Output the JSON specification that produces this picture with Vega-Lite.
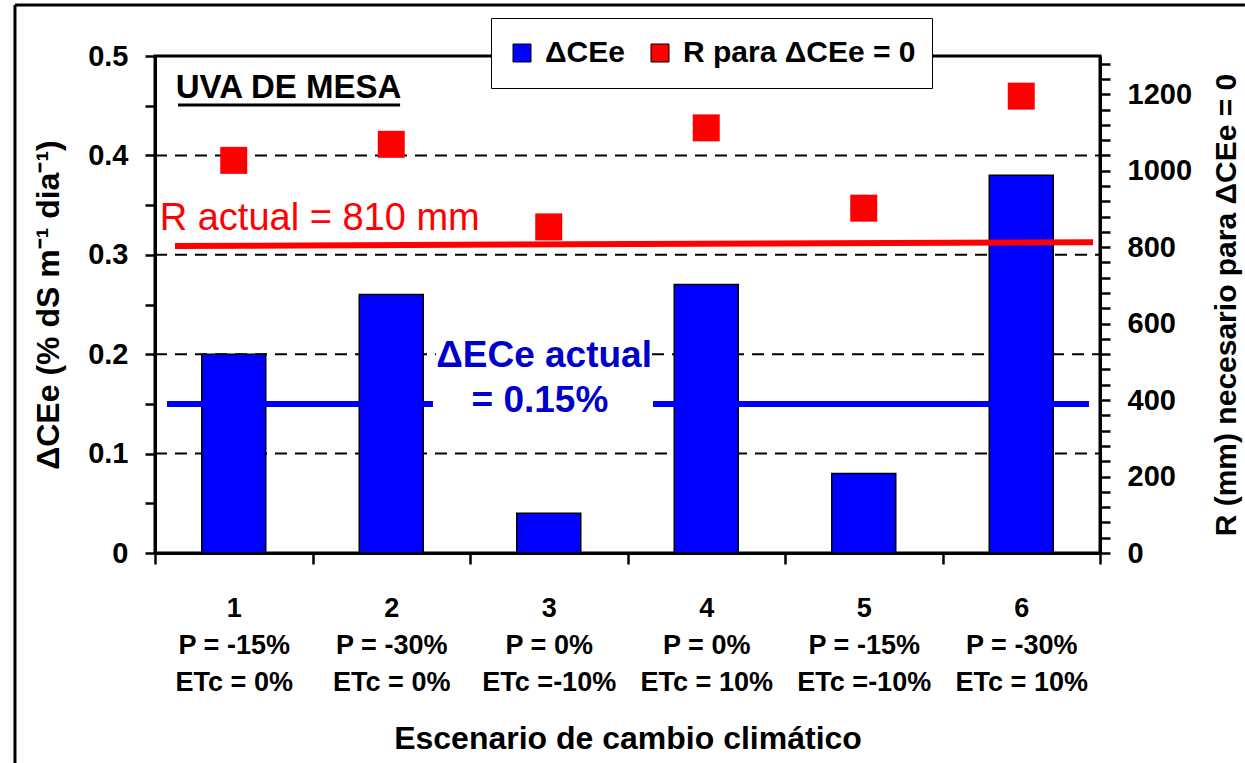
{
  "$schema": "https://vega.github.io/schema/vega-lite/v6.json",
  "width": 945,
  "height": 497,
  "autosize": {"type": "none"},
  "padding": {"left": 155, "top": 56, "right": 145, "bottom": 210},
  "background": "white",
  "config": {
    "font": "Liberation Sans",
    "view": {"stroke": "black", "strokeWidth": 3},
    "axis": {
      "domainColor": "black", "domainWidth": 3,
      "tickColor": "black", "tickWidth": 2.5, "tickSize": 10,
      "labelColor": "black", "labelFont": "Liberation Sans", "labelFontWeight": "bold", "labelFontSize": 29,
      "titleFont": "Liberation Sans", "titleFontWeight": "bold", "titleFontSize": 32, "titleColor": "black",
      "grid": false, "labelOverlap": false, "labelFlush": false, "labelBound": false
    }
  },
  "datasets": {
    "scen": [
      {"esc": 1, "dce": 0.20, "R": 1027},
      {"esc": 2, "dce": 0.26, "R": 1069},
      {"esc": 3, "dce": 0.04, "R": 853},
      {"esc": 4, "dce": 0.27, "R": 1112},
      {"esc": 5, "dce": 0.08, "R": 902},
      {"esc": 6, "dce": 0.38, "R": 1195}
    ],
    "grid": [
      {"x1": 0.5, "x2": 6.5, "y": 0.1},
      {"x1": 0.5, "x2": 2.284, "y": 0.2},
      {"x1": 3.656, "x2": 6.5, "y": 0.2},
      {"x1": 0.5, "x2": 6.5, "y": 0.3},
      {"x1": 0.5, "x2": 6.5, "y": 0.4}
    ],
    "ecline": [
      {"x1": 0.576, "x2": 2.265, "y": 0.15},
      {"x1": 3.662, "x2": 6.43, "y": 0.15}
    ],
    "rline": [
      {"x": 0.627, "R": 803},
      {"x": 6.456, "R": 813}
    ],
    "frame": [
      {"x1": -0.389, "x2": -0.389, "y1": 0.5513, "y2": -0.2113},
      {"x1": -0.389, "x2": 7.42, "y1": 0.5513, "y2": 0.5513}
    ]
  },
  "layer": [
    {
      "layer": [
        {
          "data": {"name": "grid"},
          "mark": {"type": "rule", "color": "black", "strokeWidth": 2, "strokeDash": [12, 8]},
          "encoding": {
            "x": {
              "field": "x1", "type": "quantitative",
              "scale": {"domain": [0.5, 6.5], "nice": false, "zero": false, "padding": 0},
              "axis": {
                "title": "Escenario de cambio climático",
                "values": [0.5, 1.5, 2.5, 3.5, 4.5, 5.5, 6.5],
                "tickCount": 20,
                "labelExpr": "datum.value < 1 ? '' : datum.value < 2 ? ['1','P = -15%','ETc = 0%'] : datum.value < 3 ? ['2','P = -30%','ETc = 0%'] : datum.value < 4 ? ['3','P = 0%','ETc =-10%'] : datum.value < 5 ? ['4','P = 0%','ETc = 10%'] : datum.value < 6 ? ['5','P = -15%','ETc =-10%'] : ['6','P = -30%','ETc = 10%']",
                "labelOffset": -78.75,
                "labelAlign": "center",
                "labelBaseline": "top",
                "labelFontSize": 27,
                "labelLineHeight": 37,
                "labelPadding": 31,
                "tickSize": 11,
                "titlePadding": 28
              }
            },
            "x2": {"field": "x2"},
            "y": {
              "field": "y", "type": "quantitative",
              "scale": {"domain": [0, 0.5], "nice": false},
              "axis": {
                "title": "ΔCEe (% dS m⁻¹ dia⁻¹)",
                "values": [0, 0.05, 0.1, 0.15, 0.2, 0.25, 0.3, 0.35, 0.4, 0.45, 0.5],
                "tickCount": 50,
                "labelExpr": "abs(datum.value * 10 - round(datum.value * 10)) < 0.001 ? (datum.value == 0 ? '0' : format(datum.value, '.1f')) : ''",
                "labelPadding": 17,
                "titlePadding": 22
              }
            }
          }
        },
        {
          "data": {"name": "scen"},
          "mark": {"type": "bar", "orient": "vertical", "width": 64, "stroke": "black", "strokeWidth": 1.5},
          "encoding": {
            "x": {"field": "esc", "type": "quantitative"},
            "y": {"field": "dce", "type": "quantitative"},
            "color": {
              "datum": "ΔCEe", "type": "nominal",
              "scale": {"domain": ["ΔCEe", "R para ΔCEe = 0"], "range": ["#0000FF", "#FF0000"]},
              "legend": {
                "title": null, "orient": "none", "legendX": 336, "legendY": -38,
                "direction": "horizontal", "symbolType": "square", "symbolSize": 324,
                "symbolStrokeColor": "black", "symbolStrokeWidth": 1, "symbolOpacity": 1,
                "labelFont": "Liberation Sans", "labelFontWeight": "bold", "labelFontSize": 30,
                "labelColor": "black", "labelOffset": 8, "columnPadding": 20, "padding": 16,
                "clipHeight": 38,
                "strokeColor": "black", "fillColor": "white", "labelLimit": 400
              }
            }
          }
        },
        {
          "data": {"name": "ecline"},
          "mark": {"type": "rule", "color": "#0000FF", "strokeWidth": 6},
          "encoding": {
            "x": {"field": "x1", "type": "quantitative"},
            "x2": {"field": "x2"},
            "y": {"field": "y", "type": "quantitative"}
          }
        },
        {
          "data": {"values": [{"x": 0.632, "y": 0.4577, "t": "UVA DE MESA"}]},
          "mark": {"type": "text", "align": "left", "baseline": "alphabetic", "fontSize": 33, "fontWeight": "bold", "color": "black"},
          "encoding": {
            "x": {"field": "x", "type": "quantitative"},
            "y": {"field": "y", "type": "quantitative"},
            "text": {"field": "t"}
          }
        },
        {
          "data": {"values": [{"x1": 0.646, "x2": 2.056, "y": 0.4507}]},
          "mark": {"type": "rule", "color": "black", "strokeWidth": 3},
          "encoding": {
            "x": {"field": "x1", "type": "quantitative"},
            "x2": {"field": "x2"},
            "y": {"field": "y", "type": "quantitative"}
          }
        },
        {
          "data": {"values": [
            {"x": 2.97, "y": 0.1871, "t": "ΔECe actual"},
            {"x": 2.944, "y": 0.1419, "t": "= 0.15%"}
          ]},
          "mark": {"type": "text", "align": "center", "baseline": "alphabetic", "fontSize": 37, "fontWeight": "bold", "color": "#0000CC"},
          "encoding": {
            "x": {"field": "x", "type": "quantitative"},
            "y": {"field": "y", "type": "quantitative"},
            "text": {"field": "t"}
          }
        },
        {
          "data": {"name": "frame"},
          "mark": {"type": "rule", "color": "black", "strokeWidth": 3},
          "encoding": {
            "x": {"field": "x1", "type": "quantitative"},
            "x2": {"field": "x2"},
            "y": {"field": "y1", "type": "quantitative"},
            "y2": {"field": "y2"}
          }
        }
      ]
    },
    {
      "layer": [
        {
          "data": {"name": "rline"},
          "mark": {"type": "line", "color": "#FF0000", "strokeWidth": 6},
          "encoding": {
            "x": {"field": "x", "type": "quantitative"},
            "y": {
              "field": "R", "type": "quantitative",
              "scale": {"domain": [0, 1300], "nice": false},
              "axis": {
                "orient": "right",
                "title": "R (mm) necesario para ΔCEe = 0",
                "values": [0, 40, 80, 120, 160, 200, 240, 280, 320, 360, 400, 440, 480, 520, 560, 600, 640, 680, 720, 760, 800, 840, 880, 920, 960, 1000, 1040, 1080, 1120, 1160, 1200, 1240, 1280],
                "tickCount": 100,
                "labelExpr": "datum.value % 200 == 0 ? format(datum.value, 'd') : ''",
                "labelPadding": 17,
                "titleAngle": -90,
                "titleBaseline": "top",
                "titleFontSize": 30,
                "titlePadding": 20
              }
            }
          }
        },
        {
          "data": {"name": "scen"},
          "mark": {"type": "point", "shape": "square", "filled": true, "size": 729, "opacity": 1},
          "encoding": {
            "x": {"field": "esc", "type": "quantitative"},
            "y": {"field": "R", "type": "quantitative"},
            "color": {"datum": "R para ΔCEe = 0", "type": "nominal"}
          }
        },
        {
          "data": {"values": [{"x": 0.53, "R": 845, "t": "R actual = 810 mm"}]},
          "mark": {"type": "text", "align": "left", "baseline": "alphabetic", "fontSize": 38, "color": "#FF0000"},
          "encoding": {
            "x": {"field": "x", "type": "quantitative"},
            "y": {"field": "R", "type": "quantitative"},
            "text": {"field": "t"}
          }
        }
      ]
    }
  ],
  "resolve": {"scale": {"y": "independent"}}
}
